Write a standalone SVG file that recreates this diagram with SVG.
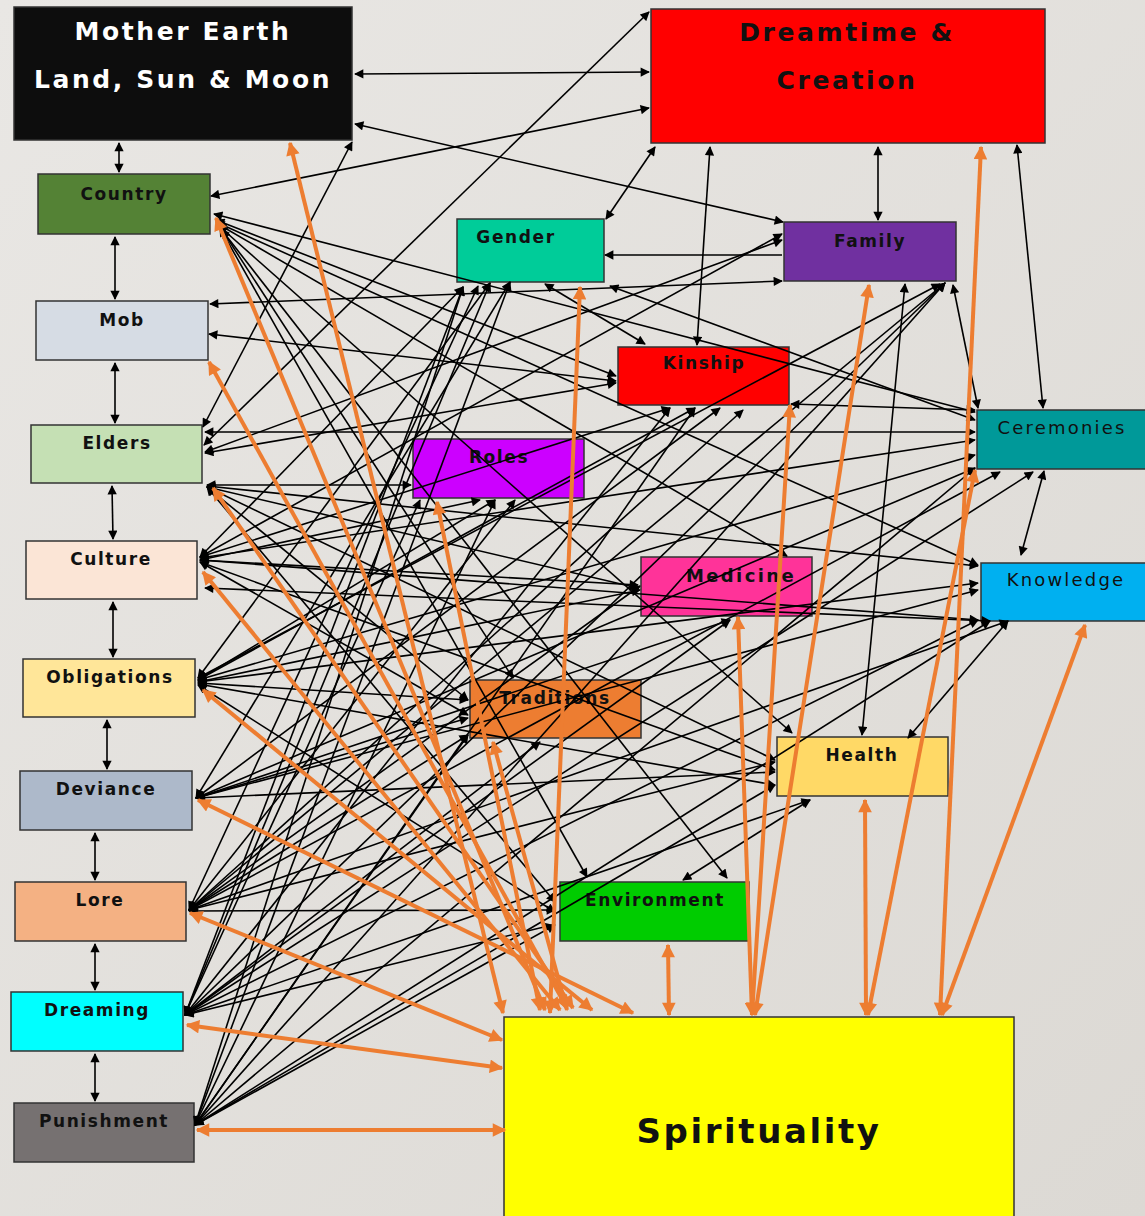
<svg xmlns="http://www.w3.org/2000/svg" width="1145" height="1216" viewBox="0 0 1145 1216">
<defs>
<linearGradient id="bg" x1="0" y1="0" x2="1" y2="1">
<stop offset="0" stop-color="#e9e7e4"/>
<stop offset="1" stop-color="#dcd9d4"/>
</linearGradient>
<marker id="a" viewBox="0 0 10 10" refX="9" refY="5" markerWidth="6.4" markerHeight="5.8" orient="auto-start-reverse" markerUnits="strokeWidth"><path d="M0,0 L10,5 L0,10 z" fill="#000"/></marker>
<marker id="ao" viewBox="0 0 10 10" refX="9" refY="5" markerWidth="3.6" markerHeight="3.4" orient="auto-start-reverse" markerUnits="strokeWidth"><path d="M0,0 L10,5 L0,10 z" fill="#ed7d31"/></marker>
</defs>
<style>
.n rect{stroke:#333;stroke-width:1.5}
.t{font-family:"DejaVu Sans",Verdana,sans-serif;font-weight:bold;font-size:17px;letter-spacing:1.6px;fill:#111;text-anchor:middle}
.tn{font-weight:normal;font-size:18px;letter-spacing:2.2px}
.big{font-size:25px;letter-spacing:2.6px}
.sp{font-size:34px;letter-spacing:2.6px}
.w{fill:#fff}
.k line{stroke:#000;stroke-width:1.6;marker-start:url(#a);marker-end:url(#a)}
.k line.e{marker-start:none}
.o line{stroke:#ed7d31;stroke-width:4;marker-start:url(#ao);marker-end:url(#ao)}
</style>
<rect width="1145" height="1216" fill="url(#bg)"/>

<g id="nodes">
<g id="mother-earth" class="n"><rect x="14" y="7" width="338" height="133" fill="#0d0d0d"/><text class="t big w" x="183" y="40">Mother Earth</text><text class="t big w" x="183" y="88">Land, Sun &amp; Moon</text></g>
<g id="dreamtime" class="n"><rect x="651" y="9" width="394" height="134" fill="#ff0000"/><text class="t big" x="847" y="41">Dreamtime &amp;</text><text class="t big" x="847" y="89">Creation</text></g>
<g id="country" class="n"><rect x="38" y="174" width="172" height="60" fill="#548235"/><text class="t" x="124" y="200">Country</text></g>
<g id="mob" class="n"><rect x="36" y="301" width="172" height="59" fill="#d6dce4"/><text class="t" x="122" y="326">Mob</text></g>
<g id="elders" class="n"><rect x="31" y="425" width="171" height="58" fill="#c5e0b4"/><text class="t" x="117" y="449">Elders</text></g>
<g id="culture" class="n"><rect x="26" y="541" width="171" height="58" fill="#fbe5d6"/><text class="t" x="111" y="565">Culture</text></g>
<g id="obligations" class="n"><rect x="23" y="659" width="172" height="58" fill="#ffe699"/><text class="t" x="110" y="683">Obligations</text></g>
<g id="deviance" class="n"><rect x="20" y="771" width="172" height="59" fill="#adb9ca"/><text class="t" x="106" y="795">Deviance</text></g>
<g id="lore" class="n"><rect x="15" y="882" width="171" height="59" fill="#f4b183"/><text class="t" x="100" y="906">Lore</text></g>
<g id="dreaming" class="n"><rect x="11" y="992" width="172" height="59" fill="#00ffff"/><text class="t" x="97" y="1016">Dreaming</text></g>
<g id="punishment" class="n"><rect x="14" y="1103" width="180" height="59" fill="#767171"/><text class="t" x="104" y="1127">Punishment</text></g>
<g id="gender" class="n"><rect x="457" y="219" width="147" height="63" fill="#00cc99"/><text class="t" x="516" y="243">Gender</text></g>
<g id="family" class="n"><rect x="784" y="222" width="172" height="59" fill="#7030a0"/><text class="t" x="870" y="247">Family</text></g>
<g id="kinship" class="n"><rect x="618" y="347" width="171" height="58" fill="#ff0000"/><text class="t" x="704" y="369">Kinship</text></g>
<g id="ceremonies" class="n"><rect x="977" y="410" width="175" height="59" fill="#009999"/><text class="t tn" x="1062" y="434">Ceremonies</text></g>
<g id="roles" class="n"><rect x="413" y="439" width="171" height="59" fill="#cc00ff"/><text class="t" x="499" y="463">Roles</text></g>
<g id="medicine" class="n"><rect x="641" y="557" width="171" height="59" fill="#ff3399"/><text class="t" x="741" y="582" style="font-size:18px;letter-spacing:2.4px">Medicine</text></g>
<g id="knowledge" class="n"><rect x="981" y="563" width="170" height="58" fill="#00b0f0"/><text class="t tn" x="1066" y="586">Knowledge</text></g>
<g id="traditions" class="n"><rect x="470" y="680" width="171" height="58" fill="#ed7d31"/><text class="t" x="555" y="704">Traditions</text></g>
<g id="health" class="n"><rect x="777" y="737" width="171" height="59" fill="#ffd966"/><text class="t" x="862" y="761">Health</text></g>
<g id="environment" class="n"><rect x="560" y="882" width="189" height="59" fill="#00cc00"/><text class="t" x="655" y="906">Environment</text></g>
<g id="spirituality" class="n"><rect x="504" y="1017" width="510" height="205" fill="#ffff00"/><text class="t sp" x="759" y="1143">Spirituality</text></g>
</g>

<g id="connectors">
<g class="k">
<line x1="119" y1="143" x2="119" y2="172"/>
<line x1="115" y1="237" x2="115" y2="299"/>
<line x1="115" y1="363" x2="115" y2="423"/>
<line x1="112" y1="486" x2="113" y2="539"/>
<line x1="113" y1="602" x2="113" y2="657"/>
<line x1="107" y1="720" x2="107" y2="769"/>
<line x1="95" y1="833" x2="95" y2="880"/>
<line x1="95" y1="944" x2="95" y2="990"/>
<line x1="95" y1="1054" x2="95" y2="1101"/>
<line x1="355" y1="74" x2="649" y2="72"/>
<line x1="211" y1="196" x2="649" y2="108"/>
<line x1="355" y1="124" x2="783" y2="222"/>
<line x1="203" y1="427" x2="352" y2="142"/>
<line x1="204" y1="445" x2="649" y2="12"/>
<line x1="606" y1="219" x2="655" y2="147"/>
<line x1="878" y1="147" x2="878" y2="220"/>
<line x1="697" y1="345" x2="710" y2="147"/>
<line x1="1043" y1="408" x2="1017" y2="145"/>
<line class="e" x1="782" y1="255" x2="605" y2="255"/>
<line x1="210" y1="304" x2="782" y2="281"/>
<line x1="209" y1="334" x2="616" y2="381"/>
<line x1="1044" y1="471" x2="1021" y2="555"/>
<line x1="953" y1="285" x2="978" y2="408"/>
<line x1="905" y1="284" x2="862" y2="735"/>
<line x1="908" y1="738" x2="1008" y2="621"/>
<line x1="683" y1="880" x2="810" y2="800"/>
<line x1="545" y1="284" x2="645" y2="344"/>
<line x1="610" y1="286" x2="975" y2="420"/>
<line x1="791" y1="404" x2="975" y2="410"/>

<line x1="214" y1="214" x2="975" y2="412"/>
<line x1="216" y1="220" x2="616" y2="376"/>
<line x1="216" y1="222" x2="978" y2="565"/>
<line x1="218" y1="224" x2="787" y2="556"/>
<line x1="219" y1="226" x2="792" y2="733"/>
<line x1="220" y1="228" x2="587" y2="877"/>
<line x1="221" y1="229" x2="727" y2="878"/>
<line x1="222" y1="230" x2="513" y2="678"/>

<line x1="205" y1="432" x2="975" y2="432"/>
<line x1="205" y1="452" x2="782" y2="240"/>
<line x1="205" y1="453" x2="616" y2="383"/>
<line x1="207" y1="485" x2="411" y2="485"/>
<line x1="207" y1="486" x2="978" y2="566"/>
<line x1="207" y1="487" x2="775" y2="760"/>
<line x1="207" y1="487" x2="468" y2="700"/>
<line x1="207" y1="487" x2="555" y2="902"/>
<line x1="207" y1="487" x2="638" y2="588"/>

<line x1="200" y1="557" x2="463" y2="287"/>
<line x1="200" y1="557" x2="782" y2="234"/>
<line x1="200" y1="557" x2="670" y2="408"/>
<line x1="200" y1="558" x2="975" y2="440"/>
<line x1="200" y1="560" x2="480" y2="500"/>
<line x1="200" y1="560" x2="638" y2="585"/>
<line x1="200" y1="560" x2="978" y2="620"/>
<line x1="200" y1="562" x2="468" y2="715"/>
<line x1="200" y1="562" x2="775" y2="770"/>
<line x1="205" y1="588" x2="990" y2="621"/>

<line x1="198" y1="678" x2="490" y2="283"/>
<line x1="198" y1="678" x2="940" y2="284"/>
<line x1="198" y1="680" x2="695" y2="408"/>
<line x1="198" y1="680" x2="975" y2="455"/>
<line x1="198" y1="680" x2="495" y2="500"/>
<line x1="198" y1="682" x2="640" y2="590"/>
<line x1="198" y1="682" x2="978" y2="583"/>
<line x1="198" y1="683" x2="468" y2="700"/>
<line x1="198" y1="684" x2="775" y2="785"/>
<line x1="198" y1="685" x2="555" y2="912"/>

<line x1="196" y1="798" x2="510" y2="282"/>
<line x1="196" y1="798" x2="720" y2="408"/>
<line x1="196" y1="798" x2="975" y2="468"/>
<line x1="196" y1="798" x2="978" y2="590"/>
<line x1="196" y1="798" x2="775" y2="772"/>
<line x1="196" y1="798" x2="468" y2="718"/>
<line x1="196" y1="798" x2="730" y2="620"/>

<line x1="189" y1="910" x2="478" y2="286"/>
<line x1="189" y1="910" x2="945" y2="283"/>
<line x1="189" y1="910" x2="743" y2="410"/>
<line x1="189" y1="910" x2="1000" y2="472"/>
<line x1="189" y1="910" x2="515" y2="500"/>
<line x1="189" y1="910" x2="640" y2="586"/>
<line x1="189" y1="910" x2="1008" y2="621"/>
<line x1="189" y1="910" x2="468" y2="735"/>
<line x1="189" y1="910" x2="775" y2="762"/>
<line x1="189" y1="911" x2="555" y2="910"/>

<line x1="185" y1="1015" x2="463" y2="287"/>
<line x1="185" y1="1015" x2="490" y2="283"/>
<line x1="185" y1="1015" x2="945" y2="283"/>
<line x1="185" y1="1015" x2="670" y2="408"/>
<line x1="185" y1="1015" x2="1033" y2="472"/>
<line x1="185" y1="1015" x2="420" y2="500"/>
<line x1="185" y1="1015" x2="978" y2="620"/>
<line x1="185" y1="1015" x2="540" y2="742"/>
<line x1="185" y1="1015" x2="810" y2="800"/>
<line x1="185" y1="1015" x2="552" y2="925"/>
<line x1="185" y1="1015" x2="730" y2="620"/>

<line x1="195" y1="1125" x2="510" y2="282"/>
<line x1="195" y1="1125" x2="463" y2="287"/>
<line x1="195" y1="1125" x2="945" y2="283"/>
<line x1="195" y1="1125" x2="695" y2="408"/>
<line x1="195" y1="1125" x2="975" y2="468"/>
<line x1="195" y1="1125" x2="495" y2="500"/>
<line x1="195" y1="1125" x2="990" y2="621"/>
<line x1="195" y1="1125" x2="468" y2="735"/>
<line x1="195" y1="1125" x2="775" y2="785"/>
<line x1="195" y1="1125" x2="555" y2="925"/>
</g>
<g class="o">
<line x1="290" y1="143" x2="503" y2="1013"/>
<line x1="216" y1="218" x2="545" y2="1010"/>
<line x1="209" y1="362" x2="567" y2="1008"/>
<line x1="213" y1="488" x2="573" y2="1008"/>
<line x1="203" y1="572" x2="560" y2="1010"/>
<line x1="203" y1="690" x2="592" y2="1010"/>
<line x1="198" y1="800" x2="633" y2="1013"/>
<line x1="190" y1="913" x2="502" y2="1040"/>
<line x1="187" y1="1025" x2="502" y2="1068"/>
<line x1="197" y1="1130" x2="505" y2="1130"/>
<line x1="580" y1="287" x2="550" y2="1013"/>
<line x1="437" y1="502" x2="540" y2="1010"/>
<line x1="493" y1="742" x2="567" y2="1010"/>
<line x1="668" y1="945" x2="669" y2="1015"/>
<line x1="738" y1="617" x2="752" y2="1015"/>
<line x1="790" y1="405" x2="752" y2="1015"/>
<line x1="869" y1="285" x2="755" y2="1015"/>
<line x1="981" y1="147" x2="940" y2="1015"/>
<line x1="975" y1="470" x2="868" y2="1015"/>
<line x1="1085" y1="625" x2="942" y2="1015"/>
<line x1="865" y1="800" x2="866" y2="1015"/>
</g>
</g>
</svg>
